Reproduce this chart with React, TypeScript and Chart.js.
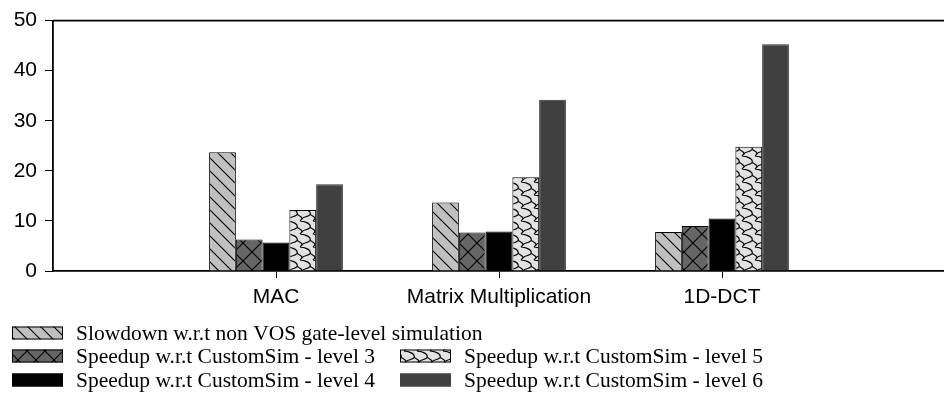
import { useEffect, useRef } from 'react';
import { Chart, registerables } from 'chart.js';

Chart.register(...registerables);

// Benchmarks on the x axis (empty slots pad both ends of the axis)
const categories = ['MAC', 'Matrix Multiplication', '1D-DCT'];

// Series values per benchmark
const slowdownGateLevel = [23.7, 13.7, 7.8];
const speedupLevel3 = [6.3, 7.7, 9.0];
const speedupLevel4 = [5.7, 7.9, 10.5];
const speedupLevel5 = [12.2, 18.7, 24.8];
const speedupLevel6 = [17.3, 34.2, 45.3];

const seriesLabels = [
  'Slowdown w.r.t non VOS gate-level simulation',
  'Speedup w.r.t CustomSim - level 3',
  'Speedup w.r.t CustomSim - level 4',
  'Speedup w.r.t CustomSim - level 5',
  'Speedup w.r.t CustomSim - level 6',
];

const yMin = 0;
const yMax = 50;
const yStep = 10;

function makeTile(w: number, h: number, bg: string, lw: number, draw: (c: CanvasRenderingContext2D) => void) {
  const cv = document.createElement('canvas');
  cv.width = w;
  cv.height = h;
  const c = cv.getContext('2d')!;
  c.fillStyle = bg;
  c.fillRect(0, 0, w, h);
  c.strokeStyle = '#000';
  c.lineWidth = lw;
  draw(c);
  return c.createPattern(cv, 'repeat')!;
}

function diagonalPattern() {
  const s = 13;
  return makeTile(s, s, '#c0c0c0', 1.1, (c) => {
    c.beginPath();
    c.moveTo(-1, -1);
    c.lineTo(s + 1, s + 1);
    c.moveTo(-1, s - 1);
    c.lineTo(1, s + 1);
    c.moveTo(s - 1, -1);
    c.lineTo(s + 1, 1);
    c.stroke();
  });
}

function crossPattern() {
  const s = 18;
  return makeTile(s, s, '#666666', 1.1, (c) => {
    c.beginPath();
    c.moveTo(-1, -1);
    c.lineTo(s + 1, s + 1);
    c.moveTo(s + 1, -1);
    c.lineTo(-1, s + 1);
    c.stroke();
  });
}

function scalePattern() {
  const w = 13;
  const h = 13;
  return makeTile(w, h, '#e2e2e2', 1.2, (c) => {
    c.beginPath();
    c.moveTo(1, 0);
    c.bezierCurveTo(7, 0.5, 12.5, 3, 11, 6.5);
    c.bezierCurveTo(9.5, 9.5, 4, 8, 3, 11);
    c.lineTo(1, 13);
    c.moveTo(11, 6.5);
    c.lineTo(13, 7.5);
    c.moveTo(0, 7.5);
    c.bezierCurveTo(2, 8.5, 3, 9.5, 3, 11);
    c.stroke();
  });
}

export default function App() {
  const ref = useRef<HTMLCanvasElement | null>(null);

  useEffect(() => {
    const canvas = ref.current;
    if (!canvas) return;

    const fills: (string | CanvasPattern)[] = [
      diagonalPattern(),
      crossPattern(),
      '#000000',
      scalePattern(),
      '#404040',
    ];
    const borders = ['#000', '#000', '#000', '#000', '#333'];
    const series = [slowdownGateLevel, speedupLevel3, speedupLevel4, speedupLevel5, speedupLevel6];

    const labels = ['', ...categories, ''];

    // legend arrangement: [dataset index, column, row]
    const legendSlots: [number, number, number][] = [
      [0, 0, 0],
      [1, 0, 1],
      [3, 1, 1],
      [2, 0, 2],
      [4, 1, 2],
    ];
    const colX = [12, 400];
    const rowY = [333, 356, 380];
    const swatchW = 51;
    const swatchH = 13;
    const textGap = 13;

    const frameAndLegend = {
      id: 'frameAndLegend',
      afterDraw(chart: any) {
        const { ctx, chartArea } = chart;
        ctx.save();
        ctx.strokeStyle = '#000';
        ctx.lineWidth = 1.8;
        ctx.beginPath();
        ctx.moveTo(chartArea.left, chartArea.top);
        ctx.lineTo(chart.width, chartArea.top);
        ctx.stroke();

        ctx.font = '21.5px "Liberation Serif", "Times New Roman", serif';
        ctx.textBaseline = 'middle';
        for (const [di, col, row] of legendSlots) {
          const x = colX[col];
          const y = rowY[row];
          ctx.fillStyle = fills[di] as any;
          ctx.fillRect(x, y - swatchH / 2, swatchW, swatchH);
          ctx.lineWidth = 1;
          ctx.strokeStyle = di === 4 ? '#404040' : '#000';
          ctx.strokeRect(x + 0.5, y - swatchH / 2 + 0.5, swatchW - 1, swatchH - 1);
          ctx.fillStyle = '#000';
          ctx.fillText(seriesLabels[di], x + swatchW + textGap, y + 1);
        }
        ctx.restore();
      },
    };

    const chart = new Chart(canvas, {
      type: 'bar',
      data: {
        labels,
        datasets: series.map((vals, i) => ({
          label: seriesLabels[i],
          data: [null, ...vals, null],
          backgroundColor: fills[i] as any,
          borderColor: borders[i],
          borderWidth: 1,
          categoryPercentage: 0.6,
          barPercentage: 1.0,
        })),
      },
      options: {
        animation: false,
        responsive: false,
        devicePixelRatio: 1,
        layout: { padding: { top: 19, right: 1, bottom: 87, left: 0 } },
        plugins: {
          legend: { display: false },
          tooltip: { enabled: false },
        },
        scales: {
          x: {
            offset: false,
            grid: {
              offset: false,
              drawOnChartArea: false,
              drawTicks: true,
              tickLength: 7,
              lineWidth: 1,
              color: (ctx: any) => (ctx.tick && ctx.tick.label ? '#000' : 'rgba(0,0,0,0)'),
            },
            border: { display: true, color: '#000', width: 1.8 },
            ticks: {
              color: '#000',
              padding: 7,
              maxRotation: 0,
              autoSkip: false,
              font: { family: '"Liberation Sans", Arial, sans-serif', size: 21 },
            },
            afterFit: (s: any) => {
              s.height = 41;
            },
          },
          y: {
            min: yMin,
            max: yMax,
            grid: {
              drawOnChartArea: false,
              drawTicks: true,
              tickLength: 8,
              color: '#000',
            },
            border: { display: true, color: '#000', width: 1.8 },
            ticks: {
              stepSize: yStep,
              color: '#000',
              padding: 8,
              font: { family: '"Liberation Sans", Arial, sans-serif', size: 21 },
            },
            afterFit: (s: any) => {
              s.width = 53;
            },
          },
        },
      },
      plugins: [frameAndLegend],
    });

    return () => chart.destroy();
  }, []);

  return (
    <div
      style={{
        position: 'fixed',
        left: 0,
        top: 0,
        width: 944,
        height: 399,
        overflow: 'hidden',
        background: '#fff',
      }}
    >
      <canvas ref={ref} width={952} height={399} style={{ display: 'block' }} />
    </div>
  );
}
